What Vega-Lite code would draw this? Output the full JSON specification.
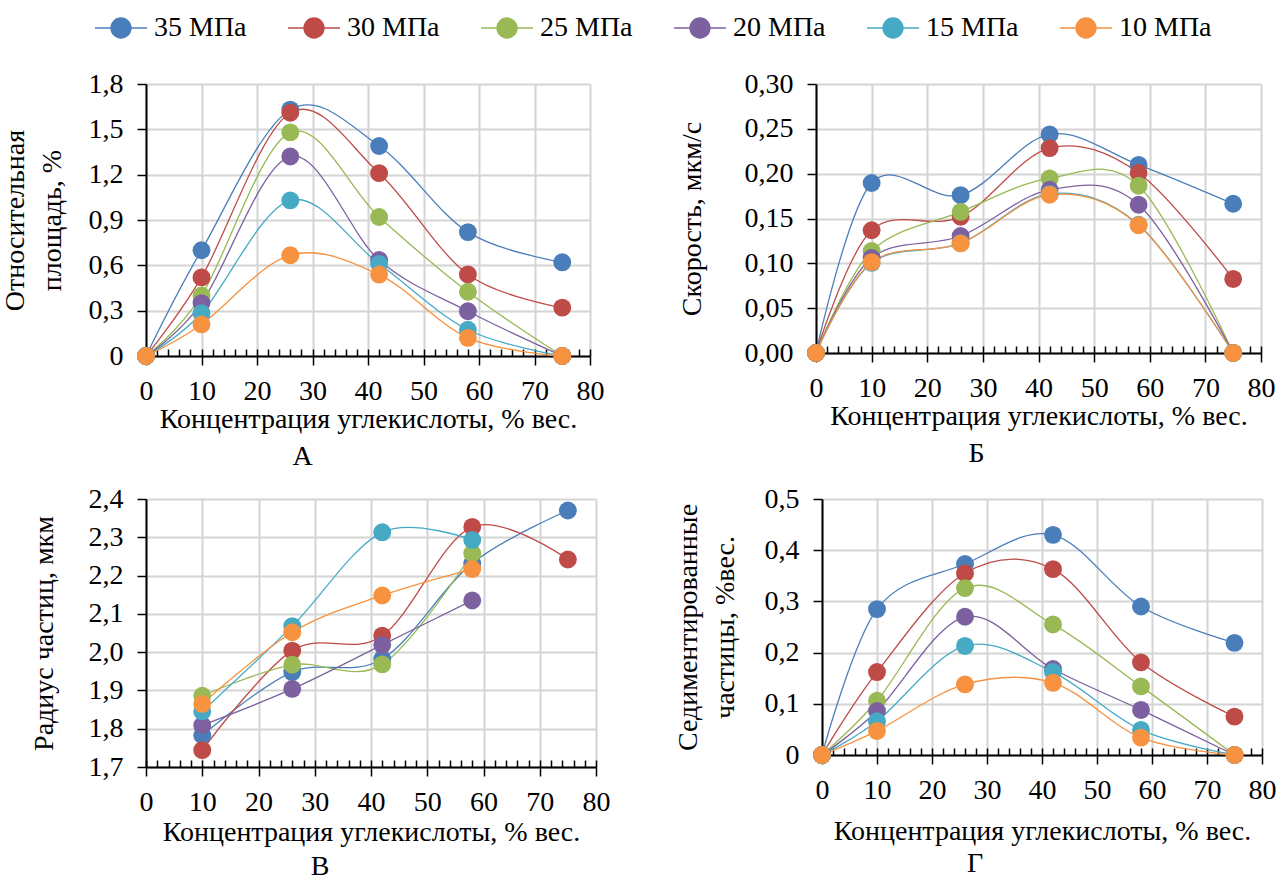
{
  "$schema": "https://vega.github.io/schema/vega-lite/v6.json",
  "padding": {"left": 1, "top": 1, "right": 0, "bottom": 0},
  "background": "white",
  "config": {
    "font": "Liberation Serif",
    "view": {"stroke": null},
    "axis": {
      "labelFont": "Liberation Serif", "labelFontSize": 28, "labelColor": "black",
      "titleFont": "Liberation Serif", "titleFontSize": 28, "titleFontWeight": "normal", "titleColor": "black",
      "domainColor": "black", "domainWidth": 2, "tickColor": "black", "tickWidth": 1.5,
      "gridColor": "#d4d4d4", "gridWidth": 2, "labelFlush": false, "labelOverlap": false, "titleLineHeight": 37
    },
    "title": {"font": "Liberation Serif", "fontSize": 28, "fontWeight": "normal", "color": "black"},
    "legend": {"labelFont": "Liberation Serif", "labelFontSize": 28, "labelColor": "black"}
  },
  "datasets": {
    "A": [
      {"series": "35 МПа", "x": 0, "y": 0}, {"series": "35 МПа", "x": 10, "y": 0.70}, {"series": "35 МПа", "x": 26, "y": 1.63}, {"series": "35 МПа", "x": 42, "y": 1.39}, {"series": "35 МПа", "x": 58, "y": 0.82}, {"series": "35 МПа", "x": 75, "y": 0.62},
      {"series": "30 МПа", "x": 0, "y": 0}, {"series": "30 МПа", "x": 10, "y": 0.52}, {"series": "30 МПа", "x": 26, "y": 1.61}, {"series": "30 МПа", "x": 42, "y": 1.21}, {"series": "30 МПа", "x": 58, "y": 0.54}, {"series": "30 МПа", "x": 75, "y": 0.32},
      {"series": "25 МПа", "x": 0, "y": 0}, {"series": "25 МПа", "x": 10, "y": 0.40}, {"series": "25 МПа", "x": 26, "y": 1.48}, {"series": "25 МПа", "x": 42, "y": 0.92}, {"series": "25 МПа", "x": 58, "y": 0.425}, {"series": "25 МПа", "x": 75, "y": 0},
      {"series": "20 МПа", "x": 0, "y": 0}, {"series": "20 МПа", "x": 10, "y": 0.35}, {"series": "20 МПа", "x": 26, "y": 1.32}, {"series": "20 МПа", "x": 42, "y": 0.635}, {"series": "20 МПа", "x": 58, "y": 0.296}, {"series": "20 МПа", "x": 75, "y": 0},
      {"series": "15 МПа", "x": 0, "y": 0}, {"series": "15 МПа", "x": 10, "y": 0.283}, {"series": "15 МПа", "x": 26, "y": 1.03}, {"series": "15 МПа", "x": 42, "y": 0.61}, {"series": "15 МПа", "x": 58, "y": 0.174}, {"series": "15 МПа", "x": 75, "y": 0},
      {"series": "10 МПа", "x": 0, "y": 0}, {"series": "10 МПа", "x": 10, "y": 0.209}, {"series": "10 МПа", "x": 26, "y": 0.667}, {"series": "10 МПа", "x": 42, "y": 0.539}, {"series": "10 МПа", "x": 58, "y": 0.12}, {"series": "10 МПа", "x": 75, "y": 0}
    ],
    "B": [
      {"series": "35 МПа", "x": 0, "y": 0}, {"series": "35 МПа", "x": 10, "y": 0.1896}, {"series": "35 МПа", "x": 26, "y": 0.176}, {"series": "35 МПа", "x": 42, "y": 0.2438}, {"series": "35 МПа", "x": 58, "y": 0.2098}, {"series": "35 МПа", "x": 75, "y": 0.1664},
      {"series": "30 МПа", "x": 0, "y": 0}, {"series": "30 МПа", "x": 10, "y": 0.1369}, {"series": "30 МПа", "x": 26, "y": 0.152}, {"series": "30 МПа", "x": 42, "y": 0.2285}, {"series": "30 МПа", "x": 58, "y": 0.2008}, {"series": "30 МПа", "x": 75, "y": 0.0826},
      {"series": "25 МПа", "x": 0, "y": 0}, {"series": "25 МПа", "x": 10, "y": 0.1137}, {"series": "25 МПа", "x": 26, "y": 0.1574}, {"series": "25 МПа", "x": 42, "y": 0.1948}, {"series": "25 МПа", "x": 58, "y": 0.1866}, {"series": "25 МПа", "x": 75, "y": 0},
      {"series": "20 МПа", "x": 0, "y": 0}, {"series": "20 МПа", "x": 10, "y": 0.106}, {"series": "20 МПа", "x": 26, "y": 0.1305}, {"series": "20 МПа", "x": 42, "y": 0.182}, {"series": "20 МПа", "x": 58, "y": 0.1653}, {"series": "20 МПа", "x": 75, "y": 0},
      {"series": "15 МПа", "x": 0, "y": 0}, {"series": "15 МПа", "x": 10, "y": 0.1005}, {"series": "15 МПа", "x": 26, "y": 0.1225}, {"series": "15 МПа", "x": 42, "y": 0.1775}, {"series": "15 МПа", "x": 58, "y": 0.143}, {"series": "15 МПа", "x": 75, "y": 0},
      {"series": "10 МПа", "x": 0, "y": 0}, {"series": "10 МПа", "x": 10, "y": 0.1013}, {"series": "10 МПа", "x": 26, "y": 0.1223}, {"series": "10 МПа", "x": 42, "y": 0.1765}, {"series": "10 МПа", "x": 58, "y": 0.1425}, {"series": "10 МПа", "x": 75, "y": 0}
    ],
    "C": [
      {"series": "35 МПа", "x": 10, "y": 1.783}, {"series": "35 МПа", "x": 26, "y": 1.948}, {"series": "35 МПа", "x": 42, "y": 1.982}, {"series": "35 МПа", "x": 58, "y": 2.232}, {"series": "35 МПа", "x": 75, "y": 2.37},
      {"series": "30 МПа", "x": 10, "y": 1.744}, {"series": "30 МПа", "x": 26, "y": 2.004}, {"series": "30 МПа", "x": 42, "y": 2.043}, {"series": "30 МПа", "x": 58, "y": 2.327}, {"series": "30 МПа", "x": 75, "y": 2.242},
      {"series": "25 МПа", "x": 10, "y": 1.886}, {"series": "25 МПа", "x": 26, "y": 1.967}, {"series": "25 МПа", "x": 42, "y": 1.968}, {"series": "25 МПа", "x": 58, "y": 2.258},
      {"series": "20 МПа", "x": 10, "y": 1.809}, {"series": "20 МПа", "x": 26, "y": 1.904}, {"series": "20 МПа", "x": 42, "y": 2.019}, {"series": "20 МПа", "x": 58, "y": 2.135},
      {"series": "15 МПа", "x": 10, "y": 1.845}, {"series": "15 МПа", "x": 26, "y": 2.068}, {"series": "15 МПа", "x": 42, "y": 2.313}, {"series": "15 МПа", "x": 58, "y": 2.293},
      {"series": "10 МПа", "x": 10, "y": 1.865}, {"series": "10 МПа", "x": 26, "y": 2.052}, {"series": "10 МПа", "x": 42, "y": 2.148}, {"series": "10 МПа", "x": 58, "y": 2.217}
    ],
    "D": [
      {"series": "35 МПа", "x": 0, "y": 0}, {"series": "35 МПа", "x": 10, "y": 0.285}, {"series": "35 МПа", "x": 26, "y": 0.373}, {"series": "35 МПа", "x": 42, "y": 0.430}, {"series": "35 МПа", "x": 58, "y": 0.290}, {"series": "35 МПа", "x": 75, "y": 0.219},
      {"series": "30 МПа", "x": 0, "y": 0}, {"series": "30 МПа", "x": 10, "y": 0.162}, {"series": "30 МПа", "x": 26, "y": 0.355}, {"series": "30 МПа", "x": 42, "y": 0.363}, {"series": "30 МПа", "x": 58, "y": 0.181}, {"series": "30 МПа", "x": 75, "y": 0.075},
      {"series": "25 МПа", "x": 0, "y": 0}, {"series": "25 МПа", "x": 10, "y": 0.106}, {"series": "25 МПа", "x": 26, "y": 0.326}, {"series": "25 МПа", "x": 42, "y": 0.255}, {"series": "25 МПа", "x": 58, "y": 0.134}, {"series": "25 МПа", "x": 75, "y": 0},
      {"series": "20 МПа", "x": 0, "y": 0}, {"series": "20 МПа", "x": 10, "y": 0.086}, {"series": "20 МПа", "x": 26, "y": 0.270}, {"series": "20 МПа", "x": 42, "y": 0.168}, {"series": "20 МПа", "x": 58, "y": 0.088}, {"series": "20 МПа", "x": 75, "y": 0},
      {"series": "15 МПа", "x": 0, "y": 0}, {"series": "15 МПа", "x": 10, "y": 0.066}, {"series": "15 МПа", "x": 26, "y": 0.213}, {"series": "15 МПа", "x": 42, "y": 0.162}, {"series": "15 МПа", "x": 58, "y": 0.049}, {"series": "15 МПа", "x": 75, "y": 0},
      {"series": "10 МПа", "x": 0, "y": 0}, {"series": "10 МПа", "x": 10, "y": 0.047}, {"series": "10 МПа", "x": 26, "y": 0.138}, {"series": "10 МПа", "x": 42, "y": 0.141}, {"series": "10 МПа", "x": 58, "y": 0.034}, {"series": "10 МПа", "x": 75, "y": 0}
    ]
  },
  "spacing": 14,
  "vconcat": [
    {
      "spacing": 74,
      "hconcat": [
        {
          "width": 444, "height": 272,
          "data": {"name": "A"},
          "title": {"text": "А", "orient": "bottom", "frame": "bounds", "anchor": "middle", "offset": 10},
          "encoding": {
            "y": {"field": "y", "type": "quantitative", "scale": {"domain": [0, 1.8], "nice": false},
                  "axis": {"values": [0, 0.3, 0.6, 0.9, 1.2, 1.5, 1.8], "labelExpr": "replace(format(datum.value, '.1~f'), '.', ',')", "title": ["Относительная", "площадь, %"], "tickSize": 9, "labelPadding": 14, "titlePadding": 22, "grid": true}},
            "color": {"field": "series", "type": "nominal",
                      "scale": {"domain": ["35 МПа", "30 МПа", "25 МПа", "20 МПа", "15 МПа", "10 МПа"], "range": ["#4A7EBB", "#BE4B48", "#98B954", "#7D60A0", "#46AAC5", "#F69240"]},
                      "legend": {"orient": "none", "legendX": -52, "legendY": -83, "direction": "horizontal", "title": null,
                                 "symbolType": "M-1,0H1M-0.385,0A0.385,0.385,0,1,1,0.385,0A0.385,0.385,0,1,1,-0.385,0Z",
                                 "symbolSize": 2700, "symbolStrokeWidth": 1.3, "labelOffset": 6, "columnPadding": 38,
                                 "encode": {"symbols": {"update": {"fill": {"scale": "color", "field": "value"}, "stroke": {"scale": "color", "field": "value"}, "opacity": {"value": 1}}}}}}
          },
          "resolve": {"axis": {"x": "independent"}},
          "layer": [
            {"mark": {"type": "line", "interpolate": "cardinal", "tension": 0, "strokeWidth": 1.3},
             "encoding": {"x": {"field": "x", "type": "quantitative", "scale": {"domain": [0, 80], "nice": false},
                                "axis": {"orient": "bottom", "values": [0, 10, 20, 30, 40, 50, 60, 70, 80], "title": "Концентрация углекислоты, % вес.", "tickSize": 9, "labelPadding": 12, "titlePadding": 0, "grid": true}}}},
            {"mark": {"type": "point", "filled": true, "size": 320, "opacity": 1},
             "encoding": {"x": {"field": "x", "type": "quantitative", "scale": {"domain": [0, 80], "nice": false},
                                "axis": {"orient": "bottom", "values": [0, 2, 4, 6, 8, 10, 12, 14, 16, 18, 20, 22, 24, 26, 28, 30, 32, 34, 36, 38, 40, 42, 44, 46, 48, 50, 52, 54, 56, 58, 60, 62, 64, 66, 68, 70, 72, 74, 76, 78, 80], "tickSize": -7, "labels": false, "grid": false, "domain": false, "title": null}}}}
          ]
        },
        {
          "width": 445, "height": 269,
          "data": {"name": "B"},
          "title": {"text": "Б", "orient": "bottom", "frame": "bounds", "anchor": "middle", "offset": 10},
          "encoding": {
            "y": {"field": "y", "type": "quantitative", "scale": {"domain": [0, 0.3], "nice": false},
                  "axis": {"values": [0, 0.05, 0.1, 0.15, 0.2, 0.25, 0.3], "labelExpr": "replace(format(datum.value, '.2f'), '.', ',')", "title": "Скорость, мкм/с", "tickSize": 9, "labelPadding": 14, "titlePadding": 38, "grid": true}},
            "color": {"field": "series", "type": "nominal"}
          },
          "resolve": {"axis": {"x": "independent"}},
          "layer": [
            {"mark": {"type": "line", "interpolate": "cardinal", "tension": 0, "strokeWidth": 1.3},
             "encoding": {"x": {"field": "x", "type": "quantitative", "scale": {"domain": [0, 80], "nice": false},
                                "axis": {"orient": "bottom", "values": [0, 10, 20, 30, 40, 50, 60, 70, 80], "title": "Концентрация углекислоты, % вес.", "tickSize": 9, "labelPadding": 12, "titlePadding": 0, "grid": true}}}},
            {"mark": {"type": "point", "filled": true, "size": 320, "opacity": 1},
             "encoding": {"x": {"field": "x", "type": "quantitative", "scale": {"domain": [0, 80], "nice": false},
                                "axis": {"orient": "bottom", "values": [0, 2, 4, 6, 8, 10, 12, 14, 16, 18, 20, 22, 24, 26, 28, 30, 32, 34, 36, 38, 40, 42, 44, 46, 48, 50, 52, 54, 56, 58, 60, 62, 64, 66, 68, 70, 72, 74, 76, 78, 80], "tickSize": -7, "labels": false, "grid": false, "domain": false, "title": null}}}}
          ]
        }
      ]
    },
    {
      "spacing": 64,
      "hconcat": [
        {
          "width": 450, "height": 268,
          "data": {"name": "C"},
          "title": {"text": "В", "orient": "bottom", "frame": "bounds", "anchor": "middle", "offset": 7},
          "encoding": {
            "y": {"field": "y", "type": "quantitative", "scale": {"domain": [1.7, 2.4], "nice": false, "zero": false},
                  "axis": {"values": [1.7, 1.8, 1.9, 2.0, 2.1, 2.2, 2.3, 2.4], "labelExpr": "replace(format(datum.value, '.1f'), '.', ',')", "title": "Радиус частиц, мкм", "tickSize": 9, "labelPadding": 14, "titlePadding": 30, "grid": true}},
            "color": {"field": "series", "type": "nominal"}
          },
          "resolve": {"axis": {"x": "independent"}},
          "layer": [
            {"mark": {"type": "line", "interpolate": "cardinal", "tension": 0, "strokeWidth": 1.3},
             "encoding": {"x": {"field": "x", "type": "quantitative", "scale": {"domain": [0, 80], "nice": false},
                                "axis": {"orient": "bottom", "values": [0, 10, 20, 30, 40, 50, 60, 70, 80], "title": "Концентрация углекислоты, % вес.", "tickSize": 9, "labelPadding": 12, "titlePadding": 2, "grid": true}}}},
            {"mark": {"type": "point", "filled": true, "size": 320, "opacity": 1},
             "encoding": {"x": {"field": "x", "type": "quantitative", "scale": {"domain": [0, 80], "nice": false},
                                "axis": {"orient": "bottom", "values": [0, 2, 4, 6, 8, 10, 12, 14, 16, 18, 20, 22, 24, 26, 28, 30, 32, 34, 36, 38, 40, 42, 44, 46, 48, 50, 52, 54, 56, 58, 60, 62, 64, 66, 68, 70, 72, 74, 76, 78, 80], "tickSize": -7, "labels": false, "grid": false, "domain": false, "title": null}}}}
          ]
        },
        {
          "width": 440, "height": 256,
          "data": {"name": "D"},
          "title": {"text": "Г", "orient": "bottom", "frame": "bounds", "anchor": "middle", "offset": 5},
          "encoding": {
            "y": {"field": "y", "type": "quantitative", "scale": {"domain": [0, 0.5], "nice": false},
                  "axis": {"values": [0, 0.1, 0.2, 0.3, 0.4, 0.5], "labelExpr": "replace(format(datum.value, '.1~f'), '.', ',')", "title": ["Седиментированные", "частицы, %вес."], "tickSize": 9, "labelPadding": 14, "titlePadding": 25, "grid": true}},
            "color": {"field": "series", "type": "nominal"}
          },
          "resolve": {"axis": {"x": "independent"}},
          "layer": [
            {"mark": {"type": "line", "interpolate": "cardinal", "tension": 0, "strokeWidth": 1.3},
             "encoding": {"x": {"field": "x", "type": "quantitative", "scale": {"domain": [0, 80], "nice": false},
                                "axis": {"orient": "bottom", "values": [0, 10, 20, 30, 40, 50, 60, 70, 80], "title": "Концентрация углекислоты, % вес.", "tickSize": 9, "labelPadding": 12, "titlePadding": 13, "grid": true}}}},
            {"mark": {"type": "point", "filled": true, "size": 320, "opacity": 1},
             "encoding": {"x": {"field": "x", "type": "quantitative", "scale": {"domain": [0, 80], "nice": false},
                                "axis": {"orient": "bottom", "values": [0, 2, 4, 6, 8, 10, 12, 14, 16, 18, 20, 22, 24, 26, 28, 30, 32, 34, 36, 38, 40, 42, 44, 46, 48, 50, 52, 54, 56, 58, 60, 62, 64, 66, 68, 70, 72, 74, 76, 78, 80], "tickSize": -7, "labels": false, "grid": false, "domain": false, "title": null}}}}
          ]
        }
      ]
    }
  ]
}
